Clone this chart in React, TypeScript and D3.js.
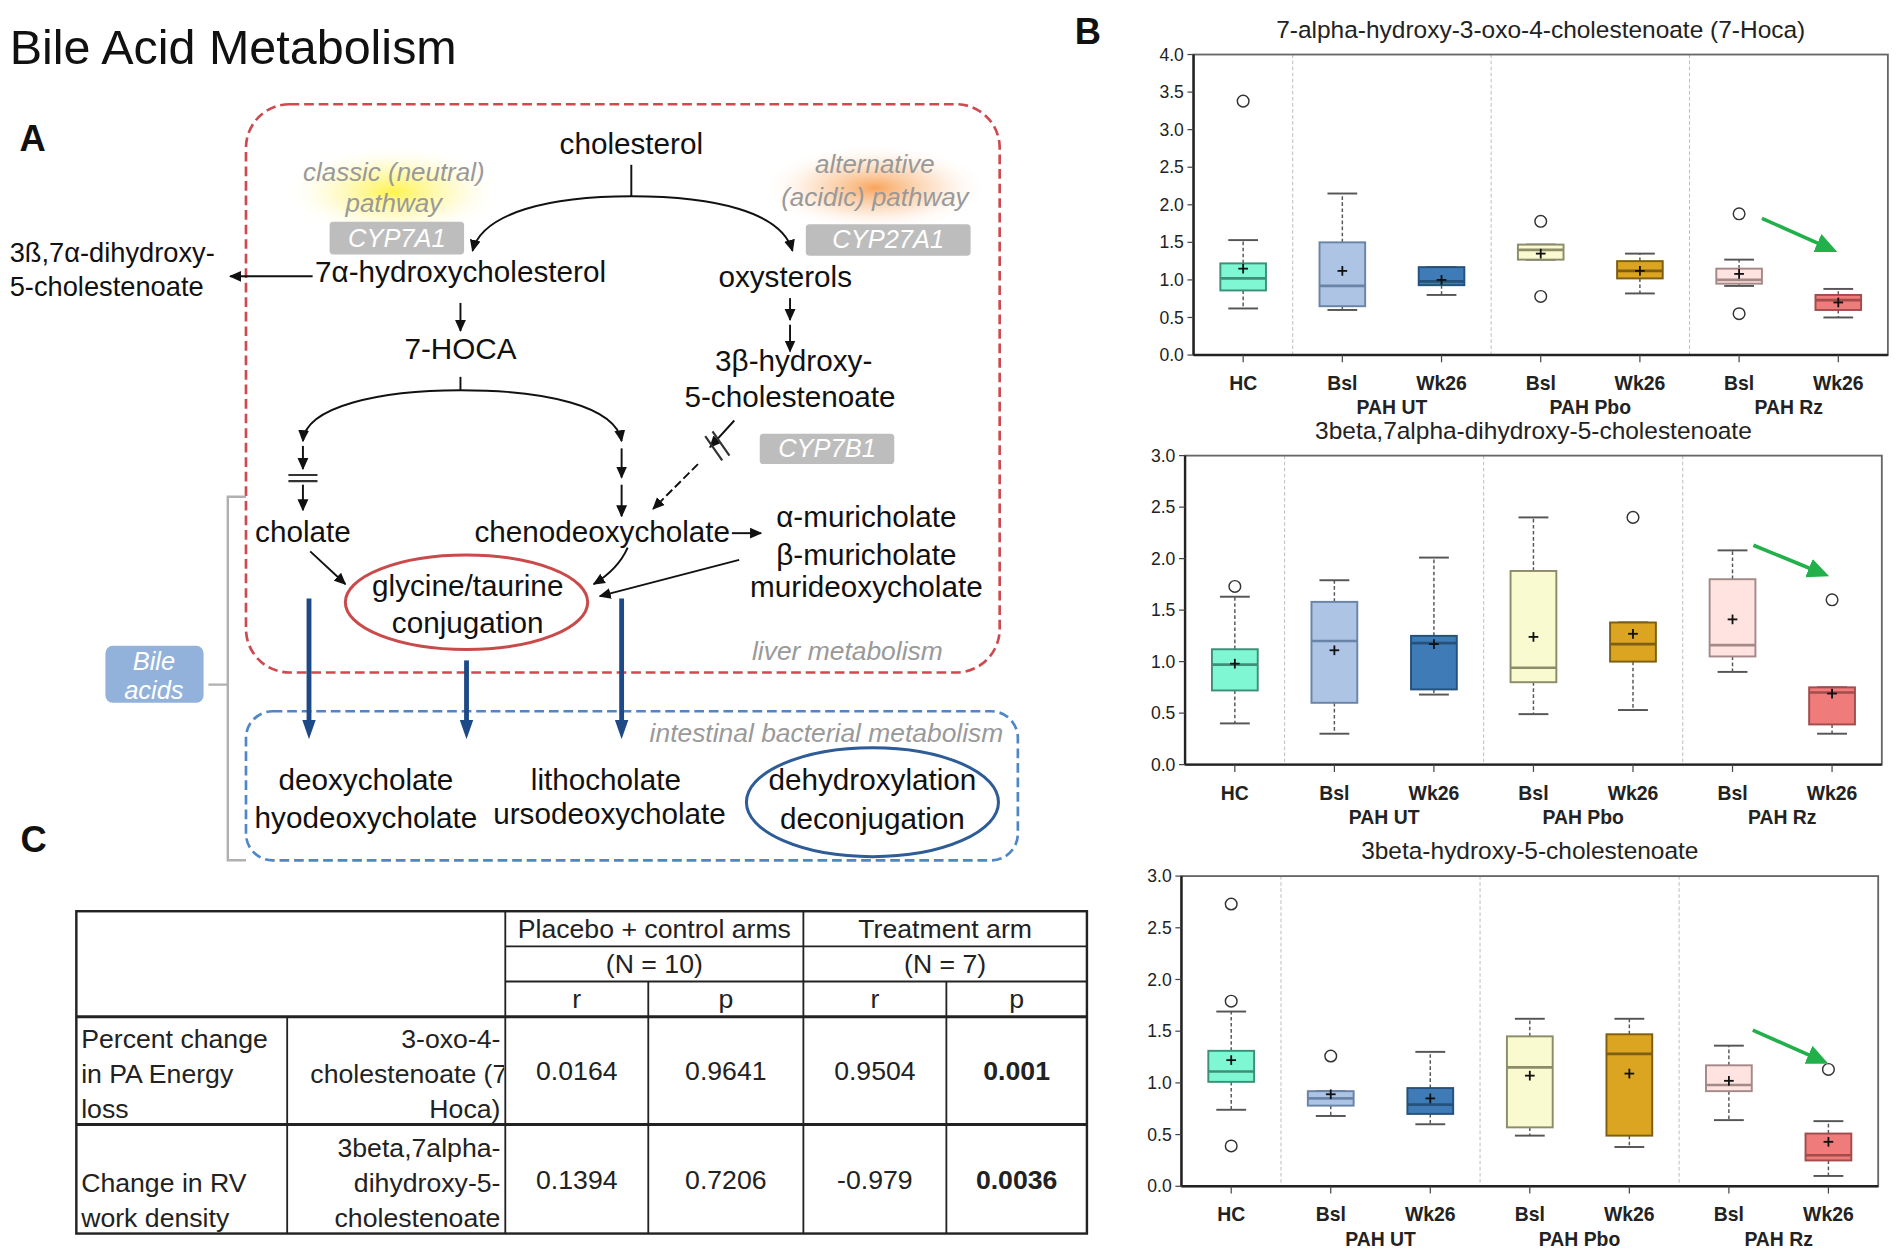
import React from 'react';
import * as d3 from 'd3';

// ---- box plot data ----
const categories = ['HC', 'Bsl', 'Wk26', 'Bsl', 'Wk26', 'Bsl', 'Wk26'];
const groupLabels = ['PAH UT', 'PAH Pbo', 'PAH Rz'];
const boxFills = ['#80f7d3', '#adc4e4', '#3f7bb6', '#fafad0', '#dba521', '#ffe3e0', '#f07b7b'];
const boxStrokes = ['#3d8f78', '#6a84a8', '#24527d', '#8c8c68', '#7d5e12', '#a38a88', '#a34c4c'];

// [low whisker, q1, median, q3, high whisker, mean]
const hocaStats = [
  [0.62, 0.86, 1.02, 1.22, 1.53, 1.15],
  [0.6, 0.65, 0.92, 1.5, 2.15, 1.12],
  [0.8, 0.93, 0.98, 1.17, 1.17, 1.0],
  [1.27, 1.27, 1.4, 1.47, 1.47, 1.35],
  [0.82, 1.02, 1.12, 1.25, 1.35, 1.12],
  [0.92, 0.95, 1.0, 1.15, 1.27, 1.08],
  [0.5, 0.6, 0.73, 0.8, 0.88, 0.7],
];
const hocaOutliers = [[3.38], [], [], [1.78, 0.78], [], [1.88, 0.55], []];
const hocaTicks = [0, 0.5, 1, 1.5, 2, 2.5, 3, 3.5, 4];
const hocaArrow = [[5.23, 1.82], [5.91, 1.42]];

const dihydroxyStats = [
  [0.4, 0.72, 0.97, 1.12, 1.63, 0.98],
  [0.3, 0.6, 1.2, 1.58, 1.79, 1.11],
  [0.68, 0.73, 1.18, 1.25, 2.01, 1.17],
  [0.49, 0.8, 0.94, 1.88, 2.4, 1.24],
  [0.53, 1.0, 1.17, 1.38, 1.38, 1.27],
  [0.9, 1.05, 1.16, 1.8, 2.08, 1.41],
  [0.3, 0.39, 0.7, 0.75, 0.75, 0.69],
];
const dihydroxyOutliers = [[1.73], [], [], [], [2.4], [], [1.6]];
const dihydroxyTicks = [0, 0.5, 1, 1.5, 2, 2.5, 3];
const dihydroxyArrow = [[5.21, 2.13], [5.89, 1.86]];

const hydroxyStats = [
  [0.74, 1.01, 1.11, 1.31, 1.69, 1.22],
  [0.68, 0.78, 0.85, 0.92, 0.92, 0.89],
  [0.6, 0.7, 0.79, 0.95, 1.3, 0.85],
  [0.49, 0.57, 1.15, 1.45, 1.62, 1.07],
  [0.38, 0.49, 1.28, 1.47, 1.62, 1.09],
  [0.64, 0.92, 0.98, 1.17, 1.36, 1.02],
  [0.1, 0.25, 0.3, 0.51, 0.63, 0.43],
];
const hydroxyOutliers = [[2.73, 1.79, 0.39], [1.26], [], [], [], [], [1.13]];
const hydroxyTicks = [0, 0.5, 1, 1.5, 2, 2.5, 3];
const hydroxyArrow = [[5.24, 1.51], [5.92, 1.22]];

// ---- table data ----
const tableGroups = ['Placebo + control arms', 'Treatment arm'];
const tableNs = ['(N = 10)', '(N = 7)'];
const tableStatCols = ['r', 'p', 'r', 'p'];
const tableOutcomes = [['Percent change', 'in PA Energy', 'loss'], ['Change in RV', 'work density']];
const tableMetabolites = [['3-oxo-4-', 'cholestenoate (7-', 'Hoca)'], ['3beta,7alpha-', 'dihydroxy-5-', 'cholestenoate']];
const tableValues = [
  ['0.0164', '0.9641', '0.9504', '0.001'],
  ['0.1394', '0.7206', '-0.979', '0.0036'],
];

const FONT = 'Liberation Sans, Arial, Helvetica, sans-serif';

type Panel = {
  title: string;
  stats: number[][];
  outliers: number[][];
  ticks: number[];
  arrow: number[][];
  left: number;
  right: number;
  top: number;
  bottom: number;
  titleY: number;
};

const panels: Panel[] = [
  { title: '7-alpha-hydroxy-3-oxo-4-cholestenoate (7-Hoca)', stats: hocaStats, outliers: hocaOutliers, ticks: hocaTicks, arrow: hocaArrow, left: 985, right: 1558, top: 45, bottom: 293, titleY: 31 },
  { title: '3beta,7alpha-dihydroxy-5-cholestenoate', stats: dihydroxyStats, outliers: dihydroxyOutliers, ticks: dihydroxyTicks, arrow: dihydroxyArrow, left: 978, right: 1553, top: 376, bottom: 631, titleY: 362 },
  { title: '3beta-hydroxy-5-cholestenoate', stats: hydroxyStats, outliers: hydroxyOutliers, ticks: hydroxyTicks, arrow: hydroxyArrow, left: 975, right: 1550, top: 723, bottom: 979, titleY: 709 },
];

function BoxPanel({ p }: { p: Panel }) {
  const x = d3.scaleBand<number>().domain(d3.range(categories.length)).range([p.left, p.right]).padding(0);
  const y = d3.scaleLinear().domain([0, d3.max(p.ticks)!]).range([p.bottom, p.top]);
  const bw = x.bandwidth();
  const cx = (i: number) => x(i)! + bw / 2;
  const cxf = (v: number) => p.left + (v + 0.5) * bw;
  const boxW = bw * 0.46;
  const capW = bw * 0.3;
  const fmt = d3.format('.1f');
  const ax = cxf(p.arrow[0][0]);
  const ay = y(p.arrow[0][1]);
  const bx = cxf(p.arrow[1][0]);
  const by = y(p.arrow[1][1]);
  return (
    <g fontFamily={FONT}>
      <text x={(p.left + p.right) / 2} y={p.titleY} textAnchor="middle" fontSize={20.2} fill="#222">{p.title}</text>
      {[1, 3, 5].map((i) => (
        <line key={i} x1={x(i)} x2={x(i)} y1={p.top} y2={p.bottom} stroke="#bbb" strokeDasharray="3,2" strokeWidth={0.8} />
      ))}
      <rect x={p.left} y={p.top} width={p.right - p.left} height={p.bottom - p.top} fill="none" stroke="#666" strokeWidth={1.5} />
      <line x1={p.left} x2={p.left} y1={p.top} y2={p.bottom} stroke="#222" strokeWidth={2} />
      <line x1={p.left} x2={p.right} y1={p.bottom} y2={p.bottom} stroke="#222" strokeWidth={2} />
      {p.ticks.map((t) => (
        <g key={t}>
          <line x1={p.left - 5} x2={p.left} y1={y(t)} y2={y(t)} stroke="#444" />
          <text x={p.left - 8} y={y(t) + 5} textAnchor="end" fontSize={14.5} fill="#222">{fmt(t)}</text>
        </g>
      ))}
      {categories.map((c, i) => (
        <g key={i}>
          <line x1={cx(i)} x2={cx(i)} y1={p.bottom} y2={p.bottom + 6} stroke="#444" />
          <text x={cx(i)} y={p.bottom + 29} textAnchor="middle" fontSize={16} fontWeight="bold" fill="#222">{c}</text>
        </g>
      ))}
      {groupLabels.map((g, k) => (
        <text key={g} x={(cx(2 * k + 1) + cx(2 * k + 2)) / 2} y={p.bottom + 49} textAnchor="middle" fontSize={16} fontWeight="bold" fill="#222">{g}</text>
      ))}
      {p.stats.map((s, i) => {
        const [lo, q1, med, q3, hi, mean] = s;
        const c = cx(i);
        return (
          <g key={i}>
            <line x1={c} x2={c} y1={y(q3)} y2={y(hi)} stroke="#555" strokeDasharray="3,2" strokeWidth={1.2} />
            <line x1={c} x2={c} y1={y(q1)} y2={y(lo)} stroke="#555" strokeDasharray="3,2" strokeWidth={1.2} />
            <line x1={c - capW / 2} x2={c + capW / 2} y1={y(hi)} y2={y(hi)} stroke="#555" strokeWidth={1.6} />
            <line x1={c - capW / 2} x2={c + capW / 2} y1={y(lo)} y2={y(lo)} stroke="#555" strokeWidth={1.6} />
            <rect x={c - boxW / 2} y={y(q3)} width={boxW} height={Math.max(1, y(q1) - y(q3))} fill={boxFills[i]} stroke={boxStrokes[i]} strokeWidth={1.6} />
            <line x1={c - boxW / 2} x2={c + boxW / 2} y1={y(med)} y2={y(med)} stroke={boxStrokes[i]} strokeWidth={2.2} />
            <line x1={c - 4} x2={c + 4} y1={y(mean)} y2={y(mean)} stroke="#111" strokeWidth={1.5} />
            <line x1={c} x2={c} y1={y(mean) - 4} y2={y(mean) + 4} stroke="#111" strokeWidth={1.5} />
            {p.outliers[i].map((o, j) => (
              <circle key={j} cx={c} cy={y(o)} r={4.8} fill="white" stroke="#333" strokeWidth={1.2} />
            ))}
          </g>
        );
      })}
      <line x1={ax} y1={ay} x2={bx} y2={by} stroke="#22b04b" strokeWidth={3} markerEnd="url(#greenHead)" />
    </g>
  );
}

// ---- schematic (panel A) ----
type Label = { t: string; x: number; y: number; a?: 'start' | 'middle' | 'end'; s?: number; it?: boolean; f?: string };
const diagramLabels: Label[] = [
  { t: 'cholesterol', x: 521, y: 127, a: 'middle' },
  { t: 'classic (neutral)', x: 325, y: 149, a: 'middle', s: 21.4, it: true, f: '#999' },
  { t: 'pathway', x: 325, y: 175, a: 'middle', s: 21.4, it: true, f: '#999' },
  { t: 'alternative', x: 722, y: 143, a: 'middle', s: 21.4, it: true, f: '#999' },
  { t: '(acidic) pathway', x: 722, y: 170, a: 'middle', s: 21.4, it: true, f: '#999' },
  { t: '3ß,7α-dihydroxy-', x: 8, y: 216, s: 22.5 },
  { t: '5-cholestenoate', x: 8, y: 244, s: 22.5 },
  { t: '7α-hydroxycholesterol', x: 260, y: 233 },
  { t: 'oxysterols', x: 648, y: 237, a: 'middle' },
  { t: '7-HOCA', x: 380, y: 296, a: 'middle' },
  { t: '3β-hydroxy-', x: 655, y: 306, a: 'middle' },
  { t: '5-cholestenoate', x: 652, y: 336, a: 'middle' },
  { t: 'cholate', x: 250, y: 447, a: 'middle' },
  { t: 'chenodeoxycholate', x: 497, y: 447, a: 'middle' },
  { t: 'α-muricholate', x: 715, y: 435, a: 'middle' },
  { t: 'β-muricholate', x: 715, y: 466, a: 'middle' },
  { t: 'murideoxycholate', x: 715, y: 493, a: 'middle' },
  { t: 'glycine/taurine', x: 386, y: 492, a: 'middle' },
  { t: 'conjugation', x: 386, y: 522, a: 'middle' },
  { t: 'liver metabolism', x: 778, y: 545, a: 'end', s: 21.8, it: true, f: '#999' },
  { t: 'intestinal bacterial metabolism', x: 828, y: 612, a: 'end', s: 21.8, it: true, f: '#999' },
  { t: 'deoxycholate', x: 302, y: 652, a: 'middle' },
  { t: 'hyodeoxycholate', x: 302, y: 683, a: 'middle' },
  { t: 'lithocholate', x: 500, y: 652, a: 'middle' },
  { t: 'ursodeoxycholate', x: 503, y: 680, a: 'middle' },
  { t: 'dehydroxylation', x: 720, y: 652, a: 'middle' },
  { t: 'deconjugation', x: 720, y: 684, a: 'middle' },
];

const enzymeBoxes = [
  { t: 'CYP7A1', x: 272, y: 183, w: 111, h: 27 },
  { t: 'CYP27A1', x: 665, y: 185, w: 136, h: 26 },
  { t: 'CYP7B1', x: 627, y: 358, w: 111, h: 25 },
];

const blackArrows = [
  { d: 'M258,228 L190,228', head: true },
  { d: 'M390,207 C398,175 455,162 521,162 C590,162 645,175 654,207', head: true, both: true },
  { d: 'M521,136 L521,162', head: false },
  { d: 'M380,250 L380,273', head: true },
  { d: 'M652,246 L652,264', head: true },
  { d: 'M652,268 L652,290', head: true },
  { d: 'M380,311 L380,322', head: false },
  { d: 'M250,364 C252,335 315,322 380,322 C450,322 508,335 513,364', head: true, both: true },
  { d: 'M250,368 L250,387', head: true },
  { d: 'M250,400 L250,421', head: true },
  { d: 'M513,370 L513,394', head: true },
  { d: 'M513,400 L513,426', head: true },
  { d: 'M606,347 L586,369', head: true },
  { d: 'M576,383 L539,420', head: true, dash: true },
  { d: 'M604,440 L628,440', head: true },
  { d: 'M256,455 L285,482', head: true },
  { d: 'M518,452 Q510,470 490,482', head: true },
  { d: 'M610,462 L495,492', head: true },
];

const blueArrows = [
  { x: 255, y1: 494, y2: 608 },
  { x: 385, y1: 545, y2: 608 },
  { x: 513, y1: 494, y2: 608 },
];

// table layout
const colEdges = [63, 237, 417, 535, 663, 781, 897];
const rowEdges = [752, 781, 810, 839, 928, 1018];

function Table() {
  const mid = (a: number, b: number) => (a + b) / 2;
  const L = colEdges;
  const R = rowEdges;
  return (
    <g fontFamily={FONT} fontSize={22} fill="#222">
      <rect x={L[0]} y={R[0]} width={L[6] - L[0]} height={R[5] - R[0]} fill="white" stroke="#222" strokeWidth={2} />
      <line x1={L[2]} x2={L[6]} y1={R[1]} y2={R[1]} stroke="#222" strokeWidth={1.5} />
      <line x1={L[2]} x2={L[6]} y1={R[2]} y2={R[2]} stroke="#222" strokeWidth={1.5} />
      <line x1={L[0]} x2={L[6]} y1={R[3]} y2={R[3]} stroke="#222" strokeWidth={2.5} />
      <line x1={L[0]} x2={L[6]} y1={R[4]} y2={R[4]} stroke="#222" strokeWidth={2.5} />
      <line x1={L[2]} x2={L[2]} y1={R[0]} y2={R[5]} stroke="#222" strokeWidth={1.5} />
      <line x1={L[4]} x2={L[4]} y1={R[0]} y2={R[5]} stroke="#222" strokeWidth={1.5} />
      <line x1={L[3]} x2={L[3]} y1={R[2]} y2={R[5]} stroke="#222" strokeWidth={1.5} />
      <line x1={L[5]} x2={L[5]} y1={R[2]} y2={R[5]} stroke="#222" strokeWidth={1.5} />
      <line x1={L[1]} x2={L[1]} y1={R[3]} y2={R[5]} stroke="#222" strokeWidth={1.5} />
      {tableGroups.map((g, k) => (
        <text key={g} x={mid(L[2 + 2 * k], L[4 + 2 * k])} y={R[1] - 7} textAnchor="middle">{g}</text>
      ))}
      {tableNs.map((g, k) => (
        <text key={g} x={mid(L[2 + 2 * k], L[4 + 2 * k])} y={R[2] - 7} textAnchor="middle">{g}</text>
      ))}
      {tableStatCols.map((s, k) => (
        <text key={k} x={mid(L[2 + k], L[3 + k])} y={R[3] - 7} textAnchor="middle">{s}</text>
      ))}
      {tableOutcomes.map((lines, r) => {
        const bot = R[4 + r];
        const n = lines.length;
        return lines.map((ln, j) => (
          <text key={`o${r}${j}`} x={L[0] + 4} y={bot - 5 - (n - 1 - j) * 29}>{ln}</text>
        ));
      })}
      <clipPath id="metabClip">
        <rect x={L[1]} y={R[3]} width={L[2] - L[1] - 1} height={R[5] - R[3]} />
      </clipPath>
      <g clipPath="url(#metabClip)">
        {tableMetabolites.map((lines, r) => {
          const bot = R[4 + r];
          const n = lines.length;
          return lines.map((ln, j) => (
            <text key={`m${r}${j}`} x={r === 0 && j === 1 ? L[2] + 9 : L[2] - 4} y={bot - 5 - (n - 1 - j) * 29} textAnchor="end">{ln}</text>
          ));
        })}
      </g>
      {tableValues.map((row, r) =>
        row.map((v, k) => (
          <text key={`v${r}${k}`} x={mid(L[2 + k], L[3 + k])} y={mid(R[3 + r], R[4 + r]) + 8} textAnchor="middle" fontWeight={k === 3 ? 'bold' : 'normal'}>{v}</text>
        ))
      )}
    </g>
  );
}

export default function App() {
  return (
    <div style={{ position: 'absolute', left: 0, top: 0, width: 1900, height: 1259, background: 'white' }}>
      <svg width={1900} height={1259} viewBox="0 0 1568 1039" style={{ display: 'block' }}>
        <defs>
          <marker id="blackHead" viewBox="0 0 10 10" refX="9" refY="5" markerWidth="10" markerHeight="10" markerUnits="userSpaceOnUse" orient="auto-start-reverse">
            <path d="M0,0.5 L10,5 L0,9.5 Z" fill="#111" />
          </marker>
          <marker id="blueHead" viewBox="0 0 10 10" refX="5" refY="5" markerWidth="16" markerHeight="16" markerUnits="userSpaceOnUse" orient="auto">
            <path d="M0,1.5 L10,5 L0,8.5 Z" fill="#1d4a86" />
          </marker>
          <marker id="greenHead" viewBox="0 0 10 10" refX="6" refY="5" markerWidth="18" markerHeight="18" markerUnits="userSpaceOnUse" orient="auto">
            <path d="M0,0.5 L10,5 L0,9.5 Z" fill="#22b04b" />
          </marker>
          <radialGradient id="yellowGlow">
            <stop offset="0" stopColor="#fff23a" stopOpacity={0.9} />
            <stop offset="0.55" stopColor="#fff7a0" stopOpacity={0.5} />
            <stop offset="1" stopColor="#ffffff" stopOpacity={0} />
          </radialGradient>
          <radialGradient id="orangeGlow">
            <stop offset="0" stopColor="#f7943e" stopOpacity={0.85} />
            <stop offset="0.55" stopColor="#fbc79a" stopOpacity={0.45} />
            <stop offset="1" stopColor="#ffffff" stopOpacity={0} />
          </radialGradient>
        </defs>

        <g fontFamily={FONT}>
          <text x={8} y={53} fontSize={40} fill="#111">Bile Acid Metabolism</text>
          <text x={16} y={125} fontSize={30} fontWeight="bold" fill="#111">A</text>
          <text x={887} y={36} fontSize={30} fontWeight="bold" fill="#111">B</text>
          <text x={17} y={703} fontSize={30} fontWeight="bold" fill="#111">C</text>

          <ellipse cx={325} cy={158} rx={92} ry={38} fill="url(#yellowGlow)" />
          <ellipse cx={722} cy={155} rx={94} ry={36} fill="url(#orangeGlow)" />

          <rect x={203} y={86} width={622} height={469} rx={36} fill="none" stroke="#cf4a50" strokeWidth={2.2} strokeDasharray="8,4" />
          <rect x={203} y={587} width={637} height={123} rx={22} fill="none" stroke="#4f86c6" strokeWidth={2.2} strokeDasharray="8,4" />

          <path d="M203,410 L188,410 L188,710 L203,710 M188,565 L172,565" fill="none" stroke="#b0b0b0" strokeWidth={2} />
          <rect x={87} y={533} width={81} height={47} rx={6} fill="#92b2dc" />
          <text x={127} y={553} textAnchor="middle" fontSize={21} fontStyle="italic" fill="white">Bile</text>
          <text x={127} y={577} textAnchor="middle" fontSize={21} fontStyle="italic" fill="white">acids</text>

          {enzymeBoxes.map((b) => (
            <g key={b.t}>
              <rect x={b.x} y={b.y} width={b.w} height={b.h} rx={3} fill="#bdbdbd" />
              <text x={b.x + b.w / 2} y={b.y + b.h / 2 + 7} textAnchor="middle" fontSize={21} fontStyle="italic" fill="white">{b.t}</text>
            </g>
          ))}

          {blackArrows.map((a, i) => (
            <path key={i} d={a.d} fill="none" stroke="#111" strokeWidth={1.6} strokeDasharray={a.dash ? '7,3' : undefined}
              markerEnd={a.head ? 'url(#blackHead)' : undefined} markerStart={a.both ? 'url(#blackHead)' : undefined} />
          ))}
          {/* inhibition marks */}
          <path d="M238,392 L262,392 M238,397 L262,397" stroke="#333" strokeWidth={1.8} />
          <path d="M582,360 L596,380 M588,356 L602,376" stroke="#333" strokeWidth={1.8} />

          <ellipse cx={385} cy={497} rx={100} ry={39} fill="none" stroke="#c94a4a" strokeWidth={2.5} />
          <ellipse cx={720} cy={662} rx={104} ry={45} fill="none" stroke="#2d5c96" strokeWidth={2.5} />

          {blueArrows.map((b, i) => (
            <line key={i} x1={b.x} x2={b.x} y1={b.y1} y2={b.y2 - 6} stroke="#1d4a86" strokeWidth={4} markerEnd="url(#blueHead)" />
          ))}

          {diagramLabels.map((l, i) => (
            <text key={i} x={l.x} y={l.y} textAnchor={l.a ?? 'start'} fontSize={l.s ?? 24.5} fontStyle={l.it ? 'italic' : 'normal'} fill={l.f ?? '#111'}>{l.t}</text>
          ))}
        </g>

        <Table />

        {panels.map((p, i) => (
          <BoxPanel key={i} p={p} />
        ))}
      </svg>
    </div>
  );
}
